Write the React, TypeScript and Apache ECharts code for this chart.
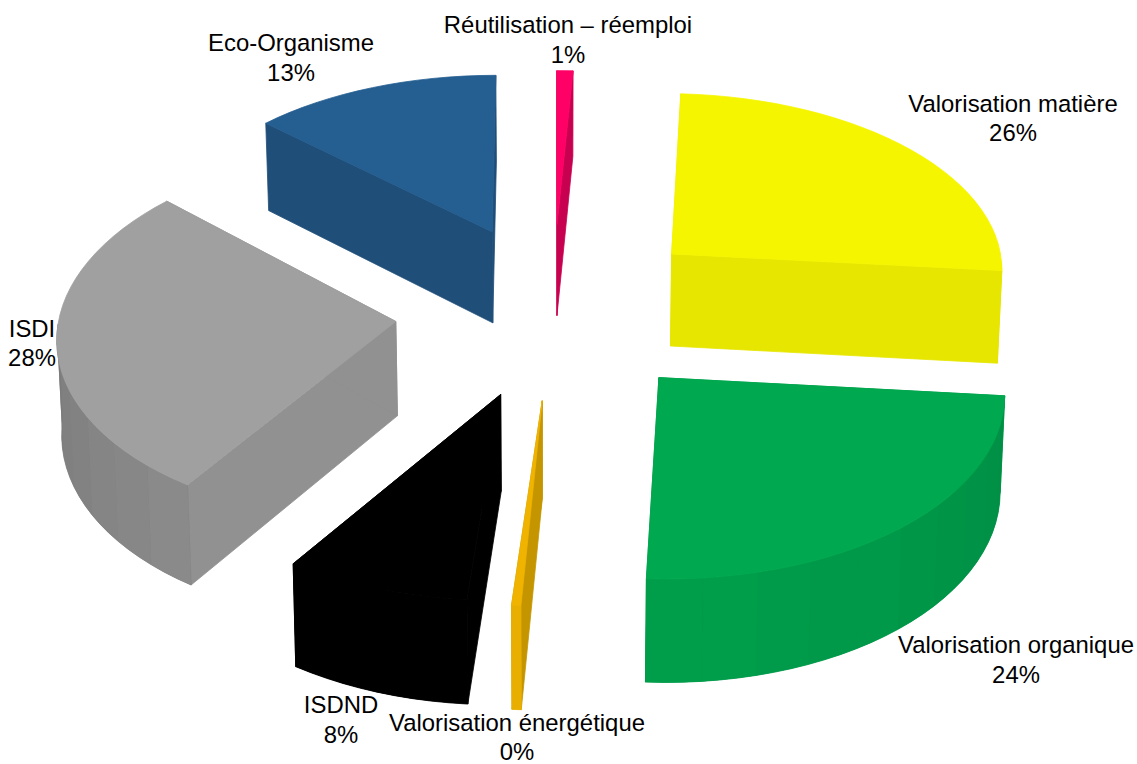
import React, { useEffect, useRef } from "react";
import * as echarts from "echarts";

const categories = [
  "Réutilisation – réemploi",
  "Valorisation matière",
  "Valorisation organique",
  "Valorisation énergétique",
  "ISDND",
  "ISDI",
  "Eco-Organisme",
];
const percentLabels = ["1%", "26%", "24%", "0%", "8%", "28%", "13%"];
const seriesValues = [0.85, 25.7, 24.35, 0.4, 8.1, 27.55, 13.1];

const topColors = ["#FF0066", "#F5F500", "#00A84F", "#F0B400", "#000000", "#A0A0A0", "#255E91"];
const faceColors = ["#C80050", "#E6E600", "#009A48", "#C59500", "#000000", "#919191", "#1F4E79"];
const curveFrom = ["#C80050", "#E6E600", "#008F45", "#E8AF00", "#000000", "#8A8A8A", "#1F4E79"];
const curveTo = ["#C80050", "#E6E600", "#00A04C", "#E8AF00", "#000000", "#7A7A7A", "#1F4E79"];

const labelCenters = [
  [568, 39.5],
  [1013, 118],
  [1016, 659.5],
  [517, 737],
  [341, 719.5],
  [32, 343],
  [291, 57.5],
];
const explodeFactorsX = [1, 1.035, 1.026, 1.0, 1.0, 1.02, 1.015];
const explodeFactorsY = [1, 1, 0.96, 0.975, 0.96, 1, 1];
const radiusFactorsY = [1, 1.02, 1.02, 1.02, 1.03, 1.05, 1.01];

const CX = 553;
const CY = 311;
const RX = 336;
const RY = 175;
const PERSPECTIVE = 0.0657;
const EXPLODE_X = 0.46;
const EXPLODE_Y = 0.51;
const DEPTH = 94;
const BOTTOM_SCALE = 0.99;

const total = seriesValues.reduce((a, b) => a + b, 0);

function project(x: number, y: number, bottom: boolean): number[] {
  const w = 1 + PERSPECTIVE * y;
  return [
    CX + (RX * x * (bottom ? BOTTOM_SCALE : 1)) / w,
    CY - (RY * y) / w + (bottom ? DEPTH / w : 0),
  ];
}

function hex(c: string): number[] {
  return [1, 3, 5].map((i) => parseInt(c.slice(i, i + 2), 16));
}
function mix(a: string, b: string, t: number): string {
  const A = hex(a);
  const B = hex(b);
  return `rgb(${A.map((v, i) => Math.round(v + (B[i] - v) * t)).join(",")})`;
}

const poly = (points: number[][], color: string, z2: number, lineWidth = 0.8) => ({
  type: "polygon",
  z2,
  shape: { points },
  style: { fill: color, stroke: color, lineWidth },
  silent: true,
});

function renderSlice(params: any, api: any) {
  const i = params.dataIndex as number;
  const before = seriesValues.slice(0, i).reduce((a, b) => a + b, 0);
  const a0 = (before / total) * Math.PI * 2;
  const a1 = ((before + api.value(0)) / total) * Math.PI * 2;
  const mid = (a0 + a1) / 2;
  const ox = Math.sin(mid) * EXPLODE_X * explodeFactorsX[i];
  const oy = Math.cos(mid) * EXPLODE_Y * explodeFactorsY[i];
  const rim = (a: number, bottom: boolean) =>
    project(ox + Math.sin(a), oy + Math.cos(a) * radiusFactorsY[i], bottom);
  const steps = Math.max(2, Math.ceil((a1 - a0) / (Math.PI / 60)));
  const angles: number[] = [];
  for (let s = 0; s <= steps; s++) angles.push(a0 + ((a1 - a0) * s) / steps);

  const apexT = project(ox, oy, false);
  const apexB = project(ox, oy, true);
  const children: any[] = [];

  children.push(poly([apexT, rim(a0, false), rim(a0, true), apexB], faceColors[i], 1));
  children.push(poly([apexT, rim(a1, false), rim(a1, true), apexB], faceColors[i], 1));

  const front = angles.filter((a) => Math.cos(a) < 0);
  if (front.length > 1) {
    const upper = front.map((a) => rim(a, false));
    const lower = front.map((a) => rim(a, true)).reverse();
    children.push(poly([...upper, ...lower], mix(curveFrom[i], curveTo[i], 0.5), 2));
    const band = 3;
    for (let s = 0; s < front.length - 1; s += band) {
      const p = front.slice(s, Math.min(s + band + 1, front.length));
      const t = s / Math.max(1, front.length - 1);
      children.push(
        poly(
          [...p.map((a) => rim(a, false)), ...p.map((a) => rim(a, true)).reverse()],
          mix(curveFrom[i], curveTo[i], t),
          2,
          0
        )
      );
    }
  }
  children.push(poly([apexT, ...angles.map((a) => rim(a, false))], topColors[i], 3));
  return { type: "group", children };
}

export default function App() {
  const ref = useRef<HTMLDivElement>(null);
  useEffect(() => {
    document.body.style.margin = "0";
    const chart = echarts.init(ref.current!, null, { renderer: "svg" });
    chart.setOption({
      animation: false,
      backgroundColor: "#ffffff",
      series: [
        {
          type: "custom",
          coordinateSystem: "none",
          silent: true,
          data: seriesValues.map((v, i) => ({ name: categories[i], value: [v] })),
          renderItem: renderSlice,
        },
      ],
      graphic: categories.map((name, i) => ({
        type: "text",
        x: labelCenters[i][0],
        y: labelCenters[i][1],
        z: 10,
        style: {
          text: `${name}\n${percentLabels[i]}`,
          fontFamily: '"Liberation Sans", Arial, sans-serif',
          fontSize: 23.9,
          lineHeight: 29.5,
          fill: "#000000",
          textAlign: "center",
          textVerticalAlign: "middle",
        },
      })),
    });
    return () => chart.dispose();
  }, []);
  return <div ref={ref} style={{ width: 1137, height: 764 }} />;
}
